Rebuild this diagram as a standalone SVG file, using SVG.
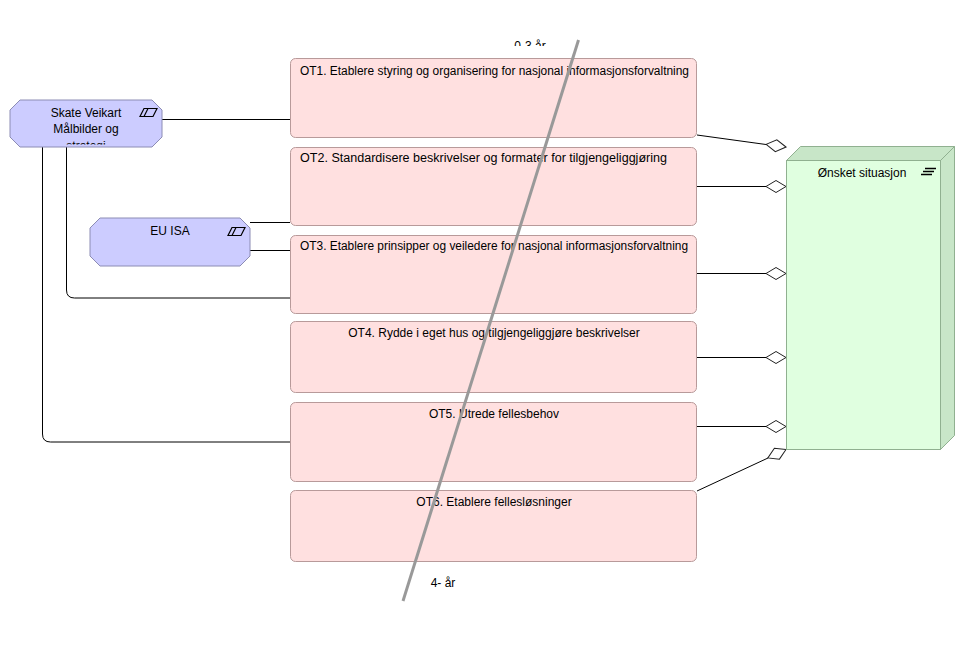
<svg xmlns="http://www.w3.org/2000/svg" width="965" height="660" viewBox="0 0 965 660">
<style>
text{font-family:"Liberation Sans",Arial,sans-serif;font-size:12px;fill:#000;}
.ot{fill:#ffe0e0;stroke:#b89a9a;stroke-width:1;}
.drv{fill:#ccccff;stroke:#8c8cb4;stroke-width:1;}
.conn{fill:none;stroke:#000;stroke-width:1;}
.dia{fill:#fff;stroke:#222;stroke-width:1;}
.icon{fill:none;stroke:#000;stroke-width:1.2;}
</style>
<defs>
<clipPath id="clipSkate"><rect x="10" y="100" width="152" height="44.5"/></clipPath>
<clipPath id="clipTop"><rect x="480" y="36" width="120" height="10"/></clipPath>
<path id="dm" d="M0,0 L-10,-6 L-20,0 L-10,6 Z"/>
</defs>
<rect width="965" height="660" fill="#fff"/>
<g id="connectors">
<path class="conn" d="M162,119.5 H290"/>
<path class="conn" d="M250,222.5 H290"/>
<path class="conn" d="M250,250.5 H290"/>
<path class="conn" d="M66.5,147 V290 Q66.5,298 74.5,298 H290"/>
<path class="conn" d="M42.5,147 V434 Q42.5,442 50.5,442 H290"/>
<path class="conn" d="M697,135 L766,144.5"/>
<path class="conn" d="M697,186.5 H766"/>
<path class="conn" d="M697,273.5 H766"/>
<path class="conn" d="M697,357.5 H766"/>
<path class="conn" d="M697,426.5 H766"/>
<path class="conn" d="M697,491 L768,458"/>
<use href="#dm" class="dia" transform="translate(786,147) rotate(7.5)"/>
<use href="#dm" class="dia" transform="translate(786,186.5)"/>
<use href="#dm" class="dia" transform="translate(786,273.5)"/>
<use href="#dm" class="dia" transform="translate(786,357.5)"/>
<use href="#dm" class="dia" transform="translate(786,426.5)"/>
<use href="#dm" class="dia" transform="translate(786,449.5) rotate(-24.8)"/>
</g>
<g id="skate">
<path class="drv" d="M20,100 H152 L162,110 V137 L152,147 H20 L10,137 V110 Z"/>
<g clip-path="url(#clipSkate)">
<text x="86" y="117" text-anchor="middle">Skate Veikart</text>
<text x="86" y="133" text-anchor="middle">Målbilder og</text>
<text x="86" y="150" text-anchor="middle">strategi</text>
</g>
<path class="icon" d="M144,108.5 H157 L153,116.5 H140 Z M148,108.5 L144,116.5"/>
</g>
<g id="euisa">
<path class="drv" d="M100,218 H240 L250,228 V256 L240,266 H100 L90,256 V228 Z"/>
<text x="170" y="235" text-anchor="middle">EU ISA</text>
<path class="icon" d="M232,227.5 H245 L241,235.5 H228 Z M236,227.5 L232,235.5"/>
</g>
<g id="ot1">
<rect class="ot" x="290.5" y="58.5" width="406" height="79" rx="5"/>
<text x="300" y="75" textLength="389" lengthAdjust="spacingAndGlyphs">OT1. Etablere styring og organisering for nasjonal informasjonsforvaltning</text>
</g>
<g id="ot2">
<rect class="ot" x="290.5" y="147.5" width="406" height="78" rx="5"/>
<text x="300" y="162" textLength="367" lengthAdjust="spacingAndGlyphs">OT2. Standardisere beskrivelser og formater for tilgjengeliggjøring</text>
</g>
<g id="ot3">
<rect class="ot" x="290.5" y="235.5" width="406" height="78" rx="5"/>
<text x="300" y="250" textLength="388" lengthAdjust="spacingAndGlyphs">OT3. Etablere prinsipper og veiledere for nasjonal informasjonsforvaltning</text>
</g>
<g id="ot4">
<rect class="ot" x="290.5" y="321.5" width="406" height="71" rx="5"/>
<text x="494" y="337" text-anchor="middle">OT4. Rydde i eget hus og tilgjengeliggjøre beskrivelser</text>
</g>
<g id="ot5">
<rect class="ot" x="290.5" y="402.5" width="406" height="79" rx="5"/>
<text x="494" y="418" text-anchor="middle">OT5. Utrede fellesbehov</text>
</g>
<g id="ot6">
<rect class="ot" x="290.5" y="490.5" width="406" height="71" rx="5"/>
<text x="494" y="506" text-anchor="middle">OT6. Etablere fellesløsninger</text>
</g>
<g id="onsket">
<path d="M786.5,160.5 L800.5,146.5 H954.5 L940.5,160.5 Z" fill="#c8e6c8" stroke="#90b090"/>
<path d="M940.5,160.5 L954.5,146.5 V435.5 L940.5,449.5 Z" fill="#c8e6c8" stroke="#90b090"/>
<rect x="786.5" y="160.5" width="154" height="289" fill="#e0ffe0" stroke="#90b090"/>
<text x="862" y="177" text-anchor="middle">Ønsket situasjon</text>
<path d="M925,168.5 H936 M923,171.5 H934 M921,174.5 H932" stroke="#000" stroke-width="1.6"/>
</g>
<g id="timeline">
<line x1="578.5" y1="40" x2="403" y2="601" stroke="#999" stroke-width="3"/>
<text x="530" y="50" text-anchor="middle" clip-path="url(#clipTop)">0-3 år</text>
<text x="443" y="587" text-anchor="middle">4- år</text>
</g>
</svg>
